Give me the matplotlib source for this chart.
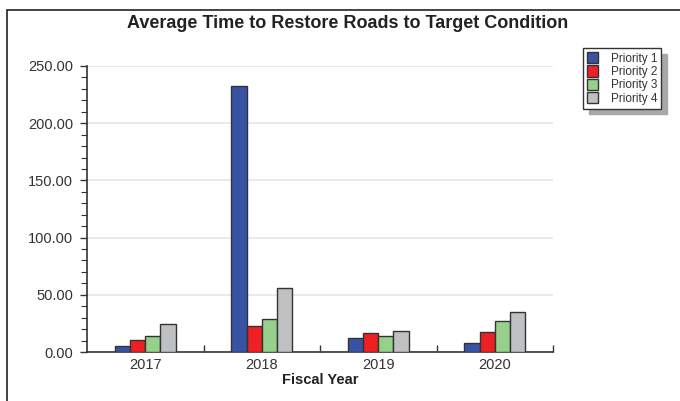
import numpy as np
import matplotlib
matplotlib.use("Agg")
import matplotlib.pyplot as plt
from matplotlib.patches import Rectangle
from matplotlib.ticker import MultipleLocator, FixedLocator, FormatStrFormatter

plt.rcParams["font.family"] = ["Liberation Sans", "DejaVu Sans"]

# Datos
anios = ["2017", "2018", "2019", "2020"]
prioridades = ["Priority 1", "Priority 2", "Priority 3", "Priority 4"]
prioridad_1 = [5.0, 232.7, 12.0, 7.9]
prioridad_2 = [10.9, 22.7, 17.0, 17.8]
prioridad_3 = [14.0, 28.6, 14.0, 26.9]
prioridad_4 = [24.2, 56.0, 18.7, 34.7]

colores = ["#3953A4", "#ED2024", "#97D08C", "#BFC0C2"]

W, H = 680, 401
fig = plt.figure(figsize=(W / 100, H / 100), dpi=100)
ax = fig.add_axes([87 / W, 1 - 352 / H, (553 - 87) / W, (352 - 66) / H])

x = np.arange(len(anios))
ancho = 0.13
series = [prioridad_1, prioridad_2, prioridad_3, prioridad_4]
for k, (vals, col, nom) in enumerate(zip(series, colores, prioridades)):
    ax.bar(x + (k - 1.5) * ancho, vals, ancho, color=col, edgecolor="#333333",
           linewidth=1.0, label=nom, zorder=3)

ax.set_xlim(-0.5, 3.5)
ax.set_ylim(0, 250)
ax.yaxis.set_major_locator(MultipleLocator(50))
ax.yaxis.set_minor_locator(MultipleLocator(10))
ax.yaxis.set_major_formatter(FormatStrFormatter("%.2f"))
ax.set_xticks(x)
ax.set_xticklabels(anios)
ax.xaxis.set_minor_locator(FixedLocator([0.5, 1.5, 2.5, 3.5]))

ax.tick_params(axis="x", which="major", length=0, labelsize=10.5, colors="#333333", pad=4)
ax.tick_params(axis="x", which="minor", direction="in", length=5, width=1, color="#333333")
ax.tick_params(axis="y", which="major", direction="out", length=5, width=1,
               labelsize=10.5, labelcolor="#333333", color="#333333", pad=5)
ax.tick_params(axis="y", which="minor", direction="out", length=4, width=0.8, color="#333333")

ax.grid(axis="y", which="major", color="#E6E6E6", linewidth=1.2, zorder=0)
for lado in ["top", "right"]:
    ax.spines[lado].set_visible(False)
for lado in ["left", "bottom"]:
    ax.spines[lado].set_color("#333333")
    ax.spines[lado].set_linewidth(1.2)

ax.set_xlabel("Fiscal Year", fontsize=10.5, fontweight="bold", color="#222222", labelpad=1)

fig.text(348 / W, 1 - 24 / H, "Average Time to Restore Roads to Target Condition",
         ha="center", va="center", fontsize=13, fontweight="bold", color="#222222")

leg = fig.legend(loc="upper left", bbox_to_anchor=(583 / W, 1 - 48 / H),
                 fontsize=8.5, frameon=True, fancybox=False,
                 shadow={"color": "#A8A8A8", "alpha": 1.0, "ox": 4, "oy": -4},
                 edgecolor="#333333", handlelength=0.9, handleheight=1.1,
                 handletextpad=1.1, labelspacing=0.05, borderpad=0.35,
                 borderaxespad=0)
leg.get_frame().set_linewidth(1.0)
for t in leg.get_texts():
    t.set_color("#333333")

# marco exterior
fig.patches.append(Rectangle((7 / W, -0.1), 1.0, 1 - 10 / H + 0.1, transform=fig.transFigure,
                             fill=False, edgecolor="#222222", linewidth=1.2))

fig.savefig("out.png", dpi=100)
